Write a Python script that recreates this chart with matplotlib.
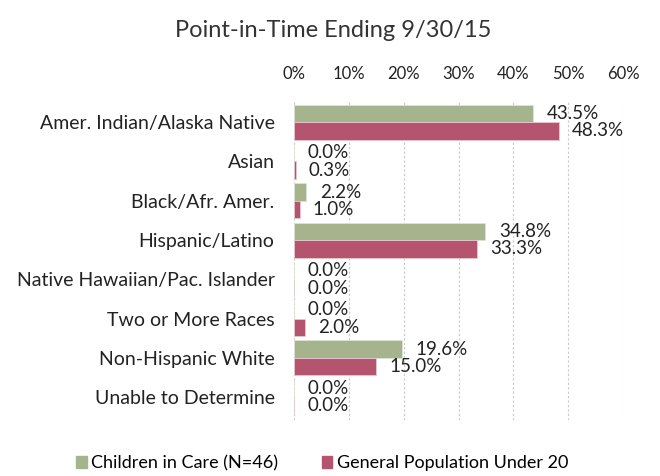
import numpy as np
import matplotlib
matplotlib.use('Agg')
import matplotlib.pyplot as plt
from matplotlib.ticker import FuncFormatter

categories = ['Amer. Indian/Alaska Native', 'Asian', 'Black/Afr. Amer.', 'Hispanic/Latino',
              'Native Hawaiian/Pac. Islander', 'Two or More Races', 'Non-Hispanic White',
              'Unable to Determine']
children = [43.5, 0.0, 2.2, 34.8, 0.0, 0.0, 19.6, 0.0]
general = [48.3, 0.3, 1.0, 33.3, 0.0, 2.0, 15.0, 0.0]
series_names = ['Children in Care (N=46)', 'General Population Under 20']
ticks = [0, 10, 20, 30, 40, 50, 60]

green = '#a6b48e'
pink = '#b5546f'
txt = '#222222'

plt.rcParams['font.family'] = ['Lato', 'DejaVu Sans']

fig = plt.figure(figsize=(6.6, 4.76), dpi=100)
ax = fig.add_axes([0.4455, 0.1176, 0.4985, 0.672])

y = np.arange(len(categories))
h = 0.445
ax.barh(y - h / 2, children, height=h, color=green, edgecolor='#dfe4d6', linewidth=0.6, zorder=3)
ax.barh(y + h / 2, general, height=h, color=pink, edgecolor='#e8c9d2', linewidth=0.6, zorder=3)

# value labels just past the bar ends
for i in range(len(categories)):
    ax.annotate(f'{children[i]:.1f}%', (children[i], y[i] - h / 2), xytext=(10, 0),
                textcoords='offset points', va='center', ha='left', fontsize=13.5, color=txt)
    ax.annotate(f'{general[i]:.1f}%', (general[i], y[i] + h / 2), xytext=(9.5, 0),
                textcoords='offset points', va='center', ha='left', fontsize=13.5, color=txt)

ax.set_xlim(0, 60)
ax.set_ylim(7.58, -0.56)
ax.set_xticks(ticks)
ax.xaxis.set_major_formatter(FuncFormatter(lambda v, p: f'{v:.0f}%'))
ax.xaxis.tick_top()
ax.tick_params(axis='x', length=0, pad=13, labelsize=12, colors=txt)
ax.set_yticks(y)
ax.set_yticklabels(categories)
ax.tick_params(axis='y', length=0, pad=14, labelsize=14, colors=txt)
for s in ax.spines.values():
    s.set_visible(False)
ax.grid(axis='x', color='#c8c8c8', linestyle=(0, (2, 2)), linewidth=0.8, zorder=0)

fig.text(0.505, 0.922, 'Point-in-Time Ending 9/30/15', ha='center', va='baseline',
         fontsize=17, color='#333333')

handles = [plt.Rectangle((0, 0), 1, 1, color=green), plt.Rectangle((0, 0), 1, 1, color=pink)]
fig.legend(handles, series_names, loc='center', bbox_to_anchor=(0.488, 0.027), ncol=2,
           frameon=False, fontsize=13, handlelength=0.6, handleheight=0.6,
           columnspacing=2.4, handletextpad=0.25)

fig.savefig('out.png', dpi=100)
